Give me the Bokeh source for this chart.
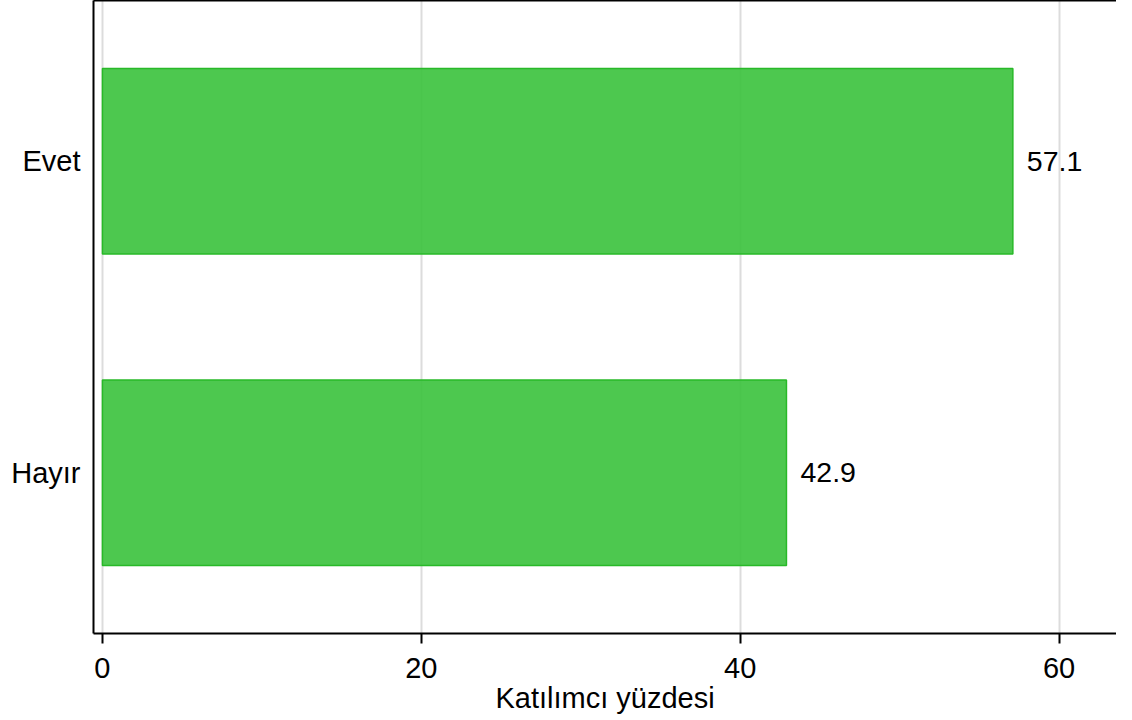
from bokeh.plotting import figure
from bokeh.models import ColumnDataSource, FactorRange, Range1d, LinearAxis, FixedTicker
from bokeh.embed import file_html
from bokeh.resources import INLINE
from bokeh.core.properties import value

categories = ["Hayır", "Evet"]
percentages = [42.9, 57.1]
x_ticks = [0, 20, 40, 60]
x_label = "Katılımcı yüzdesi"

FONT = "Liberation Sans"
FS = "29px"
FS_BAR = "28.5px"

src = ColumnDataSource(dict(
    cat=categories,
    val=percentages,
    lbl=[f"{v:.1f}" for v in percentages],
))

p = figure(
    width=1116, height=716,
    y_range=FactorRange(factors=categories, range_padding=0.016),
    x_range=Range1d(-0.56, 63.6),
    output_backend="svg", toolbar_location=None,
    min_border_left=93, min_border_right=0, min_border_top=0, min_border_bottom=0,
)

p.hbar(y="cat", right="val", left=0, height=0.595, source=src,
       fill_color=(58, 194, 60), fill_alpha=0.9, line_color=(40, 185, 40), line_width=1.5)

p.text(x="val", y="cat", text="lbl", source=src, x_offset=14,
       text_align="left", text_baseline="middle",
       text_font=value(FONT), text_font_size=FS_BAR, text_color="black")

p.outline_line_color = None
p.background_fill_color = "white"
p.border_fill_color = "white"

# x axis
xa = p.xaxis[0]
xa.ticker = FixedTicker(ticks=x_ticks)
xa.axis_label = x_label
xa.axis_label_text_font = FONT
xa.axis_label_text_font_size = FS
xa.axis_label_text_font_style = "normal"
xa.axis_label_text_color = "black"
xa.axis_label_standoff = 1
xa.major_label_text_font = FONT
xa.major_label_text_font_size = FS
xa.major_label_text_color = "black"
xa.major_label_standoff = 14
xa.major_tick_out = 10
xa.major_tick_in = 0
xa.major_tick_line_width = 2
xa.major_tick_line_color = "black"
xa.minor_tick_line_color = None
xa.axis_line_width = 2
xa.axis_line_color = "black"

# y axis
ya = p.yaxis[0]
ya.major_tick_line_color = None
ya.major_tick_out = 0
ya.major_tick_in = 0
ya.minor_tick_line_color = None
ya.major_label_standoff = 13
ya.major_label_text_font = FONT
ya.major_label_text_font_size = FS
ya.major_label_text_color = "black"
ya.axis_line_width = 2
ya.axis_line_color = "black"

# top border line (axis with no ticks or labels)
top = LinearAxis(ticker=FixedTicker(ticks=[]), major_tick_out=0, major_tick_in=0,
                 major_tick_line_color=None, minor_tick_line_color=None,
                 major_label_standoff=0, axis_line_width=2, axis_line_color="black")
p.add_layout(top, "above")

p.xgrid.grid_line_color = "#dcdcdc"
p.xgrid.grid_line_width = 2
p.xgrid.ticker = FixedTicker(ticks=x_ticks)
p.ygrid.grid_line_color = None

open("out.html", "w").write(file_html(p, INLINE))
